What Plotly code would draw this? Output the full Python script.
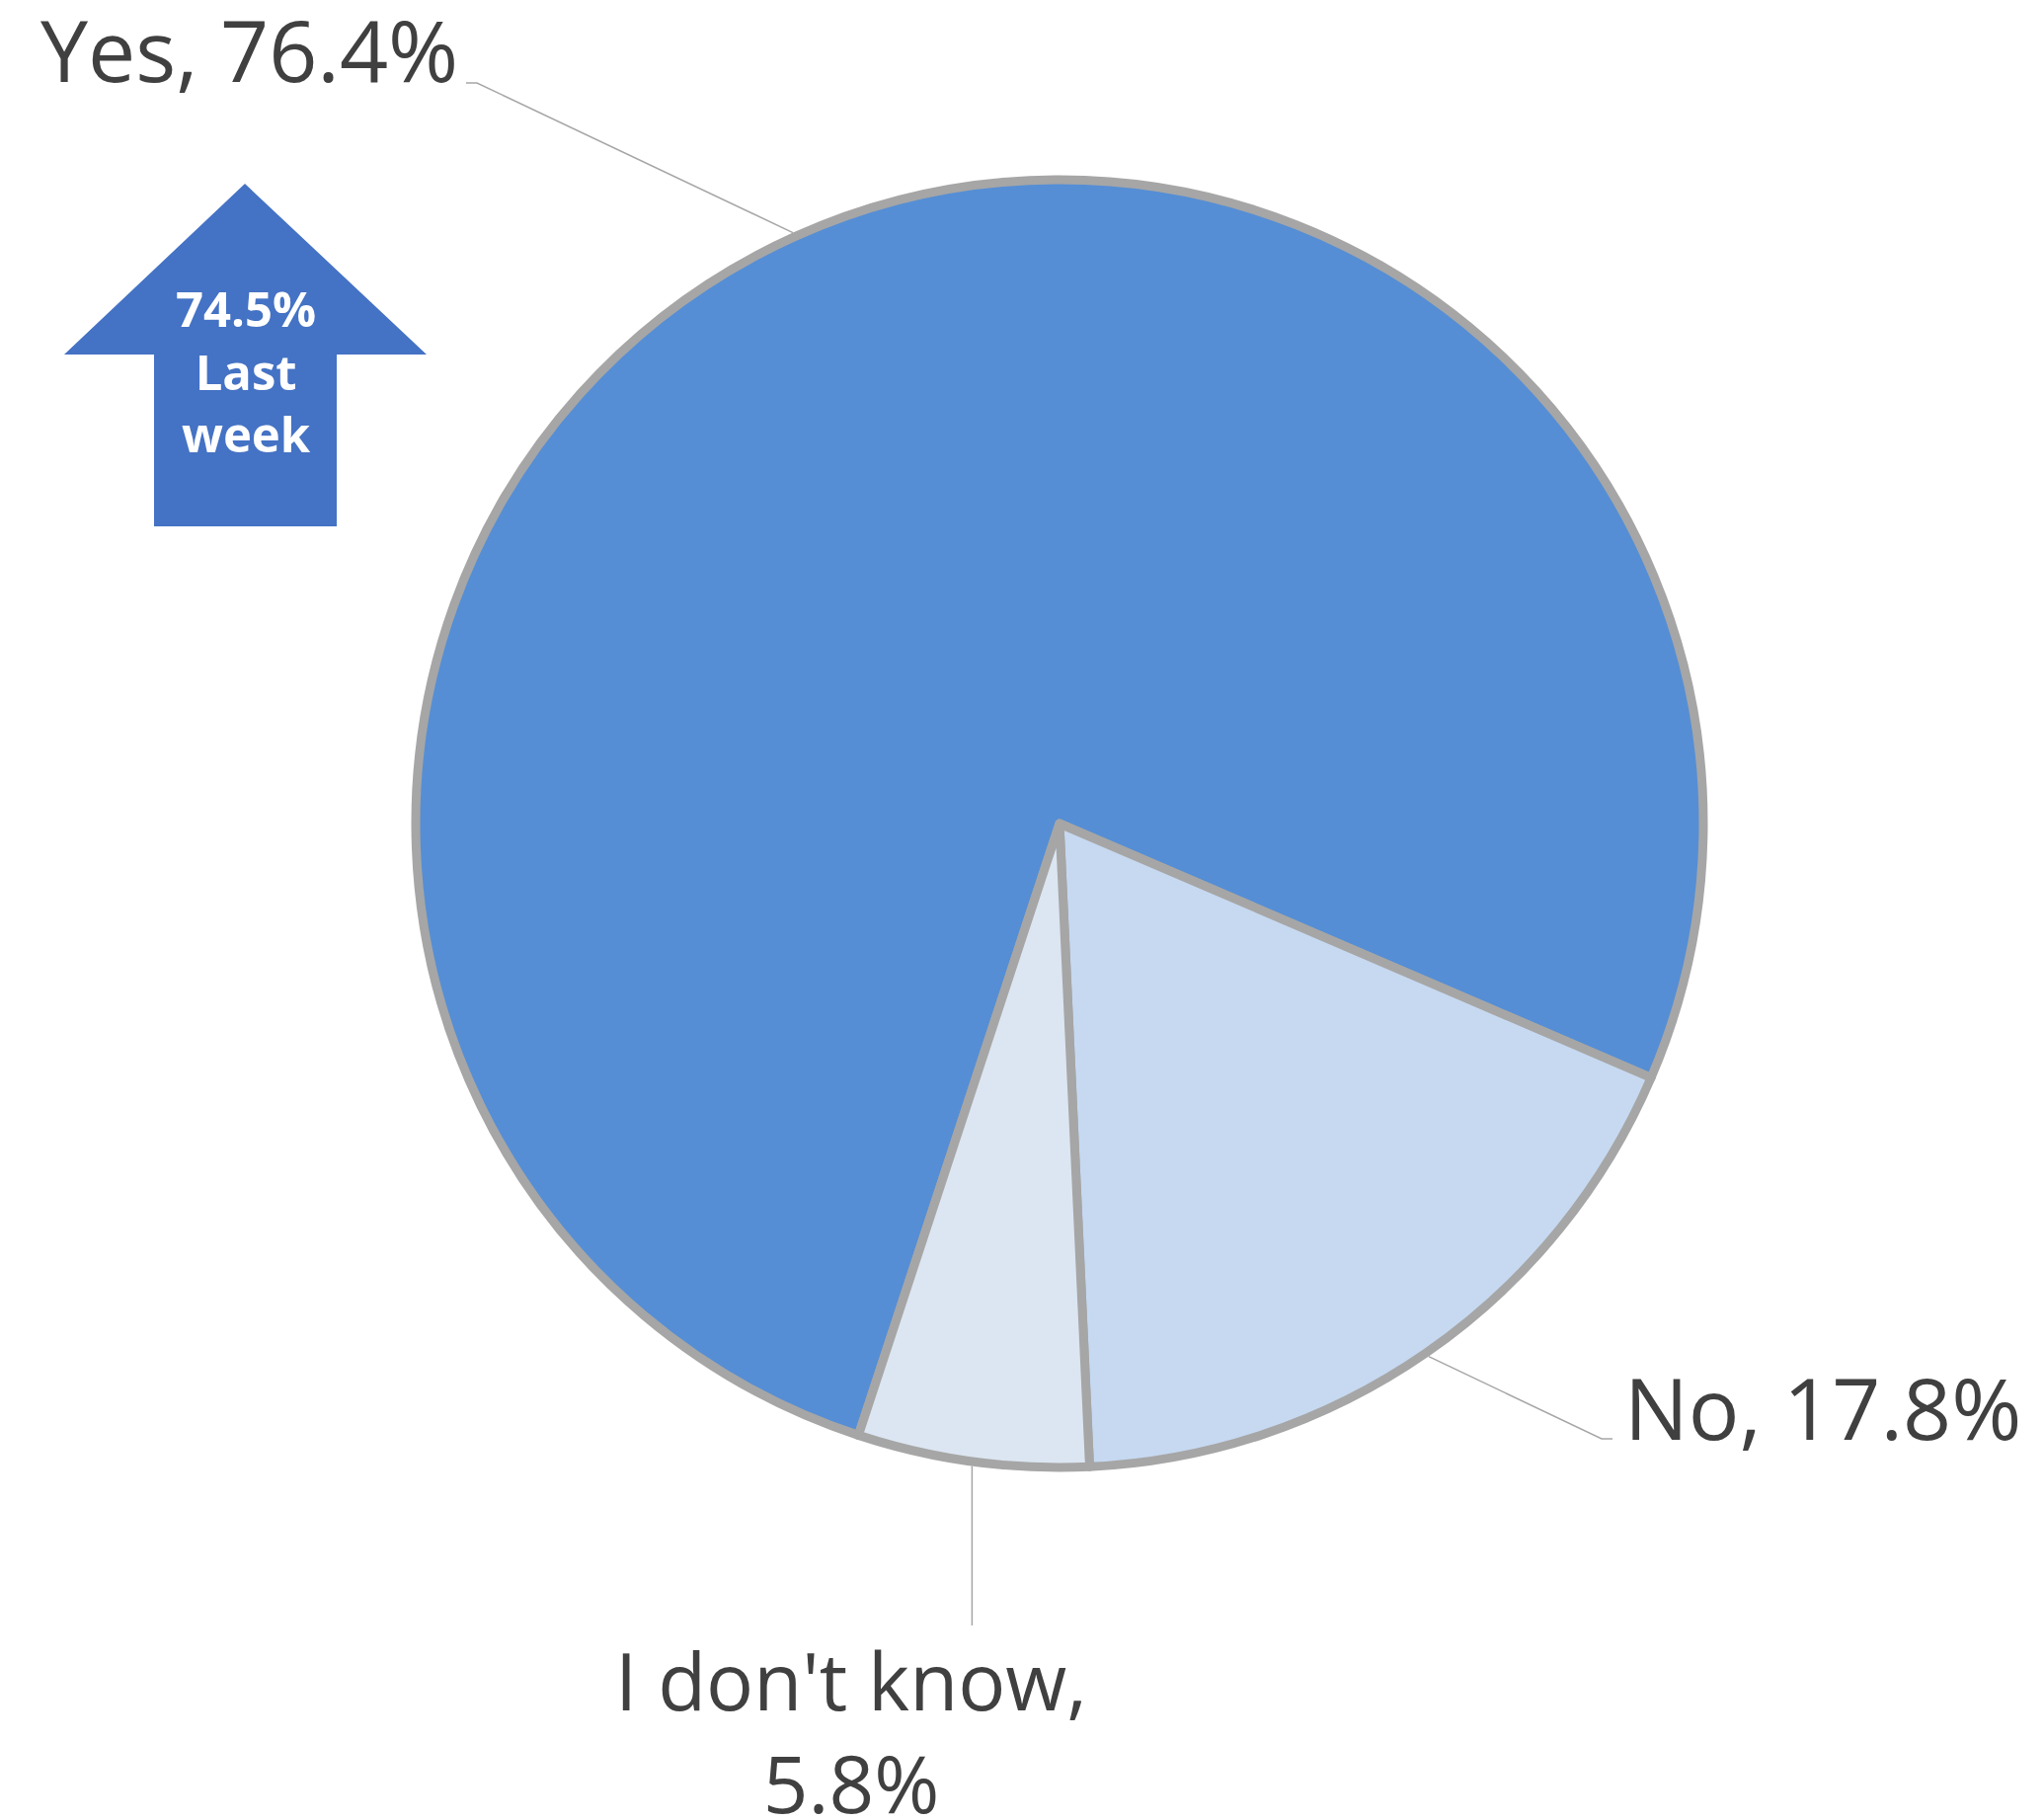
import math
import plotly.graph_objects as go

# Survey answers and their shares (%)
labels = ["Yes", "No", "I don't know"]
values = [76.4, 17.8, 5.8]
colors = ["#558ED5", "#C6D9F1", "#DCE6F2"]
last_week_yes = 74.5

W, H = 2070, 1843
CX, CY = 1073, 834      # pie centre (px)
R = 652                 # radius to the middle of the outline (px)
OUTLINE = 9
START = 198.2           # degrees clockwise from 12 o'clock where the first slice begins
LINE_GREY = "#A6A6A6"
TEXT = "#404040"
FONT = "Open Sans"
FS = 86
ASC, DESC = 1.069, 0.293   # font line metrics (em)

fig = go.Figure()
# invisible pixel-space axes used to place shapes and annotations
fig.add_trace(go.Scatter(x=[None], y=[None], showlegend=False, hoverinfo="skip"))

fig.add_trace(go.Pie(
    labels=labels, values=values, sort=False, direction="clockwise", rotation=START,
    marker=dict(colors=colors, line=dict(color=LINE_GREY, width=OUTLINE)),
    textinfo="none", hoverinfo="label+percent", showlegend=False,
    domain=dict(x=[(CX - R) / W, (CX + R) / W], y=[1 - (CY + R) / H, 1 - (CY - R) / H]),
))

# slice mid-angles for leader lines
total = sum(values)
angle = START
mids = []
for v in values:
    span = 360 * v / total
    mids.append(angle + span / 2)
    angle += span

R_OUT = R + OUTLINE / 2
# elbow / end points of each leader
leaders = {
    "Yes": [(483, 84), (472, 84)],
    "No": [(1622, 1457), (1633, 1457)],
    "I don't know": [(None, 1646)],
}
for lab, mid in zip(labels, mids):
    a = math.radians(mid)
    ex, ey = CX + R_OUT * math.sin(a), CY - R_OUT * math.cos(a)
    pts = [(ex, ey)]
    for (px, py) in leaders[lab]:
        pts.append((ex if px is None else px, py))
    path = "M " + " L ".join(f"{x:.1f},{y:.1f}" for x, y in pts)
    fig.add_shape(type="path", path=path, xref="x", yref="y",
                  line=dict(color=LINE_GREY, width=1.5), layer="below")


def top_from_baseline(baseline, size):
    return baseline - ASC * size - 1


def bottom_from_baseline(baseline, size):
    return baseline + DESC * size + 1


label_font = dict(family=FONT, size=FS, color=TEXT)
fig.add_annotation(x=466, y=bottom_from_baseline(84, FS), xref="x", yref="y",
                   xanchor="right", yanchor="bottom", showarrow=False,
                   text=f"{labels[0]}, {values[0]:.1f}%", font=label_font)
fig.add_annotation(x=1643, y=top_from_baseline(1457, FS), xref="x", yref="y",
                   xanchor="left", yanchor="top", showarrow=False,
                   text=f"{labels[1]}, {values[1]:.1f}%", font=label_font)
# two-line label below the pie
FS_IDK = 80
fig.add_annotation(x=862, y=top_from_baseline(1731, FS_IDK), xref="x", yref="y",
                   xanchor="center", yanchor="top", showarrow=False, align="center",
                   text=f"{labels[2]},<br>{values[2]:.1f}%",
                   font=dict(family=FONT, size=FS_IDK, color=TEXT))

# up arrow with last week's figure
arrow = [(248, 186), (432, 359), (341, 359), (341, 533), (156, 533), (156, 359), (65, 359)]
fig.add_shape(type="path", xref="x", yref="y",
              path="M " + " L ".join(f"{x},{y}" for x, y in arrow) + " Z",
              fillcolor="#4472C4", line=dict(width=0), layer="above")
fig.add_annotation(x=249, y=top_from_baseline(330, 49), xref="x", yref="y", xanchor="center", yanchor="top",
                   text=f"<b>{last_week_yes}%<br>Last<br>week</b>", align="center", showarrow=False,
                   font=dict(family=FONT, size=49, color="white"))

fig.update_layout(
    width=W, height=H, margin=dict(l=0, r=0, t=0, b=0),
    paper_bgcolor="white", plot_bgcolor="white",
    xaxis=dict(range=[0, W], visible=False, domain=[0, 1], fixedrange=True),
    yaxis=dict(range=[H, 0], visible=False, domain=[0, 1], fixedrange=True),
    showlegend=False,
)

fig.write_html("out.html")
